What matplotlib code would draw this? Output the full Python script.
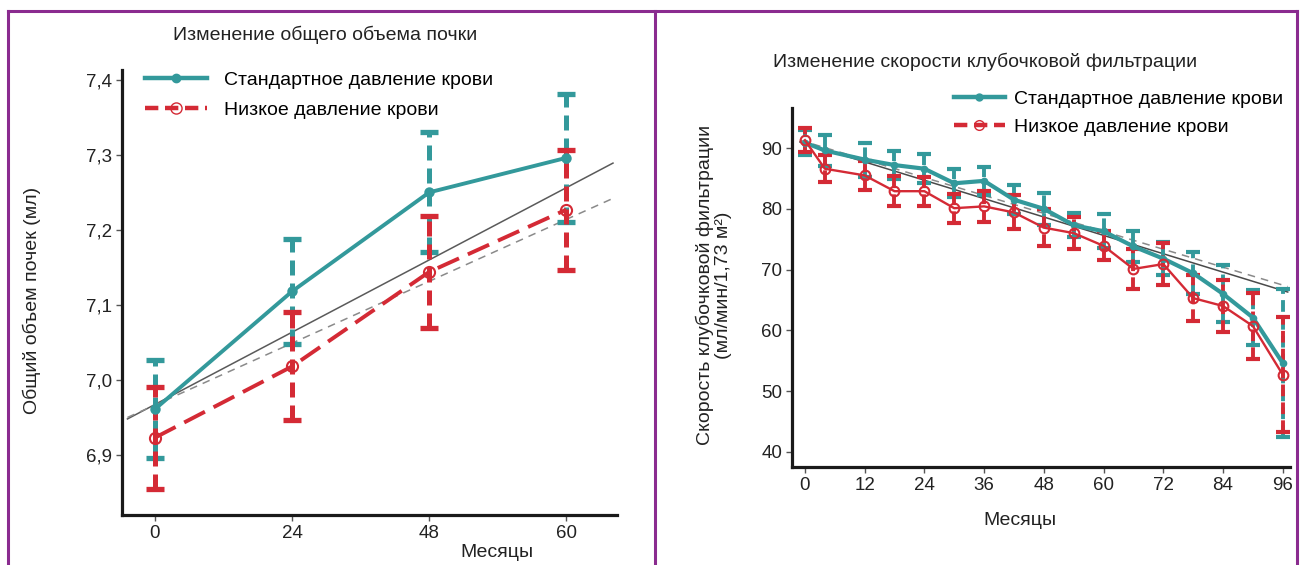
import matplotlib
matplotlib.use("Agg")
import matplotlib.pyplot as plt
from matplotlib.lines import Line2D

plt.rcParams['font.family'] = ['Liberation Sans', 'DejaVu Sans']

TEAL = '#33999b'
RED = '#d42a35'
PURPLE = '#8a2b8f'
FS = 14

# --- left panel: total kidney volume
vol_labels = ['0', '24', '48', '60']
vol_std = [6.961, 7.118, 7.250, 7.296]
vol_std_err = [0.065, 0.07, 0.08, 0.085]
vol_low = [6.923, 7.018, 7.144, 7.227]
vol_low_err = [0.068, 0.072, 0.075, 0.08]
vol_trend_x = [-0.2, 3.34]
vol_trend_solid = [6.948, 7.289]
vol_trend_dashed = [6.950, 7.242]
vol_yticks = [6.9, 7.0, 7.1, 7.2, 7.3, 7.4]

# --- right panel: GFR
gfr_months = [0, 4, 12, 18, 24, 30, 36, 42, 48, 54, 60, 66, 72, 78, 84, 90, 96]
gfr_std = [90.9, 89.6, 88.1, 87.2, 86.6, 84.2, 84.6, 81.5, 80.0, 77.3, 76.3,
           73.8, 71.8, 69.4, 66.0, 62.1, 54.6]
gfr_std_err = [2.0, 2.5, 2.8, 2.3, 2.4, 2.3, 2.3, 2.4, 2.6, 2.0, 2.8,
               2.6, 2.7, 3.5, 4.7, 4.6, 12.2]
gfr_low = [91.3, 86.6, 85.5, 82.9, 82.9, 80.1, 80.4, 79.4, 76.9, 76.0, 73.9,
           70.1, 70.9, 65.3, 64.0, 60.7, 52.7]
gfr_low_err = [2.0, 2.2, 2.4, 2.5, 2.4, 2.4, 2.5, 2.8, 3.0, 2.6, 2.4,
               3.3, 3.4, 3.8, 4.2, 5.4, 9.5]
gfr_trend_x = [-1, 97]
gfr_trend_solid = [91.0, 66.3]
gfr_trend_dashed = [91.3, 67.2]
gfr_yticks = [40, 50, 60, 70, 80, 90]
gfr_xticks = [0, 12, 24, 36, 48, 60, 72, 84, 96]

fig = plt.figure(figsize=(13.03, 5.65), dpi=100)

# purple frame
for x in [0.0065, 0.5027, 0.9954]:
    fig.add_artist(Line2D([x, x], [0, 0.9805], color=PURPLE, lw=2.2))
fig.add_artist(Line2D([0.0065, 0.9954], [0.9805, 0.9805], color=PURPLE, lw=2.2))


def style_axes(ax):
    for s in ['top', 'right']:
        ax.spines[s].set_visible(False)
    for s in ['left', 'bottom']:
        ax.spines[s].set_linewidth(2.3)
        ax.spines[s].set_color('#1a1a1a')
    ax.tick_params(direction='out', length=4, width=1, colors='#555555',
                   labelcolor='#222222', labelsize=FS - 0.5, pad=3)


def err_plot(ax, x, y, e, color, lw, mfc, ms, capsize, capthick, elw, dashes=None):
    line, caps, bars = ax.errorbar(x, y, yerr=e, color=color, lw=lw, marker='o',
                                   mfc=mfc, mec=color, ms=ms,
                                   capsize=capsize, capthick=capthick, elinewidth=elw,
                                   zorder=3)
    line.set_markeredgewidth(1.5)
    if dashes:
        line.set_dashes(dashes)
    bars[0].set_linestyle((0, (3, 1.6)))
    return line


# ---------- left axes
ax1 = fig.add_axes([0.0936, 0.0885, 0.38, 0.7875])
style_axes(ax1)
xi = list(range(len(vol_labels)))
ax1.plot(vol_trend_x, vol_trend_solid, color='#5a5a5a', lw=1.1, zorder=2)
ax1.plot(vol_trend_x, vol_trend_dashed, color='#8a8a8a', lw=1.1, ls=(0, (5, 4)), zorder=2)
err_plot(ax1, xi, vol_std, vol_std_err, TEAL, 2.8, TEAL, 6, 6.2, 3.8, 3.6)
err_plot(ax1, xi, vol_low, vol_low_err, RED, 2.8, 'none', 8, 6.2, 3.8, 3.6,
         dashes=[6, 2.5])
ax1.set_xlim(-0.24, 3.37)
ax1.set_ylim(6.82, 7.413)
ax1.set_xticks(xi)
ax1.set_xticklabels(vol_labels)
ax1.set_yticks(vol_yticks)
ax1.set_yticklabels([f'{v:.1f}'.replace('.', ',') for v in vol_yticks])
ax1.text(-0.182, 0.483, 'Общий объем почек (мл)', rotation=90, transform=ax1.transAxes,
         ha='center', va='center', fontsize=FS, color='#222222')
ax1.text(0.757, -0.085, 'Месяцы', transform=ax1.transAxes, ha='center', va='center',
         fontsize=FS, color='#222222')
h1 = [Line2D([], [], color=TEAL, lw=3.2, marker='o', ms=6, mfc=TEAL, mec=TEAL),
      Line2D([], [], color=RED, lw=3.2, ls=(0, (3, 1.5)), marker='o', ms=8, mfc='none', mec=RED)]
ax1.legend(h1, ['Стандартное давление крови', 'Низкое давление крови'], loc='upper left',
           bbox_to_anchor=(0.03, 1.015), frameon=False, fontsize=FS, handlelength=3.2,
           handletextpad=0.9, labelspacing=0.65, borderaxespad=0)
fig.text(0.2494, 0.938, 'Изменение общего объема почки', ha='center', va='center',
         fontsize=FS, color='#222222')

# ---------- right axes
ax2 = fig.add_axes([0.6078, 0.1735, 0.382, 0.6354])
style_axes(ax2)
ax2.plot(gfr_trend_x, gfr_trend_solid, color='#4a4a4a', lw=1.1, zorder=2)
ax2.plot(gfr_trend_x, gfr_trend_dashed, color='#8a8a8a', lw=1.1, ls=(0, (5, 4)), zorder=2)
err_plot(ax2, gfr_months, gfr_std, gfr_std_err, TEAL, 3.0, TEAL, 4, 5.0, 3.0, 2.8)
err_plot(ax2, gfr_months, gfr_low, gfr_low_err, RED, 1.7, 'none', 7, 5.0, 3.0, 2.8)
ax2.set_xlim(-2.6, 97.4)
ax2.set_ylim(37.5, 96.6)
ax2.set_xticks(gfr_xticks)
ax2.set_yticks(gfr_yticks)
ax2.text(-0.157, 0.507, 'Скорость клубочковой фильтрации\n(мл/мин/1,73 м²)', rotation=90,
         transform=ax2.transAxes, ha='center', va='center', fontsize=FS,
         color='#222222', linespacing=1.05, multialignment='center')
ax2.text(0.458, -0.148, 'Месяцы', transform=ax2.transAxes, ha='center', va='center',
         fontsize=FS, color='#222222')
h2 = [Line2D([], [], color=TEAL, lw=3.2, marker='o', ms=5, mfc=TEAL, mec=TEAL),
      Line2D([], [], color=RED, lw=3.2, ls=(0, (3, 1.5)), marker='o', ms=7, mfc='none', mec=RED)]
ax2.legend(h2, ['Стандартное давление крови', 'Низкое давление крови'], loc='upper left',
           bbox_to_anchor=(0.31, 1.07), frameon=False, fontsize=FS, handlelength=2.6,
           handletextpad=0.5, labelspacing=0.5, borderaxespad=0)
fig.text(0.756, 0.890, 'Изменение скорости клубочковой фильтрации', ha='center',
         va='center', fontsize=FS, color='#222222')

fig.savefig('out.png', dpi=100, facecolor='white')
